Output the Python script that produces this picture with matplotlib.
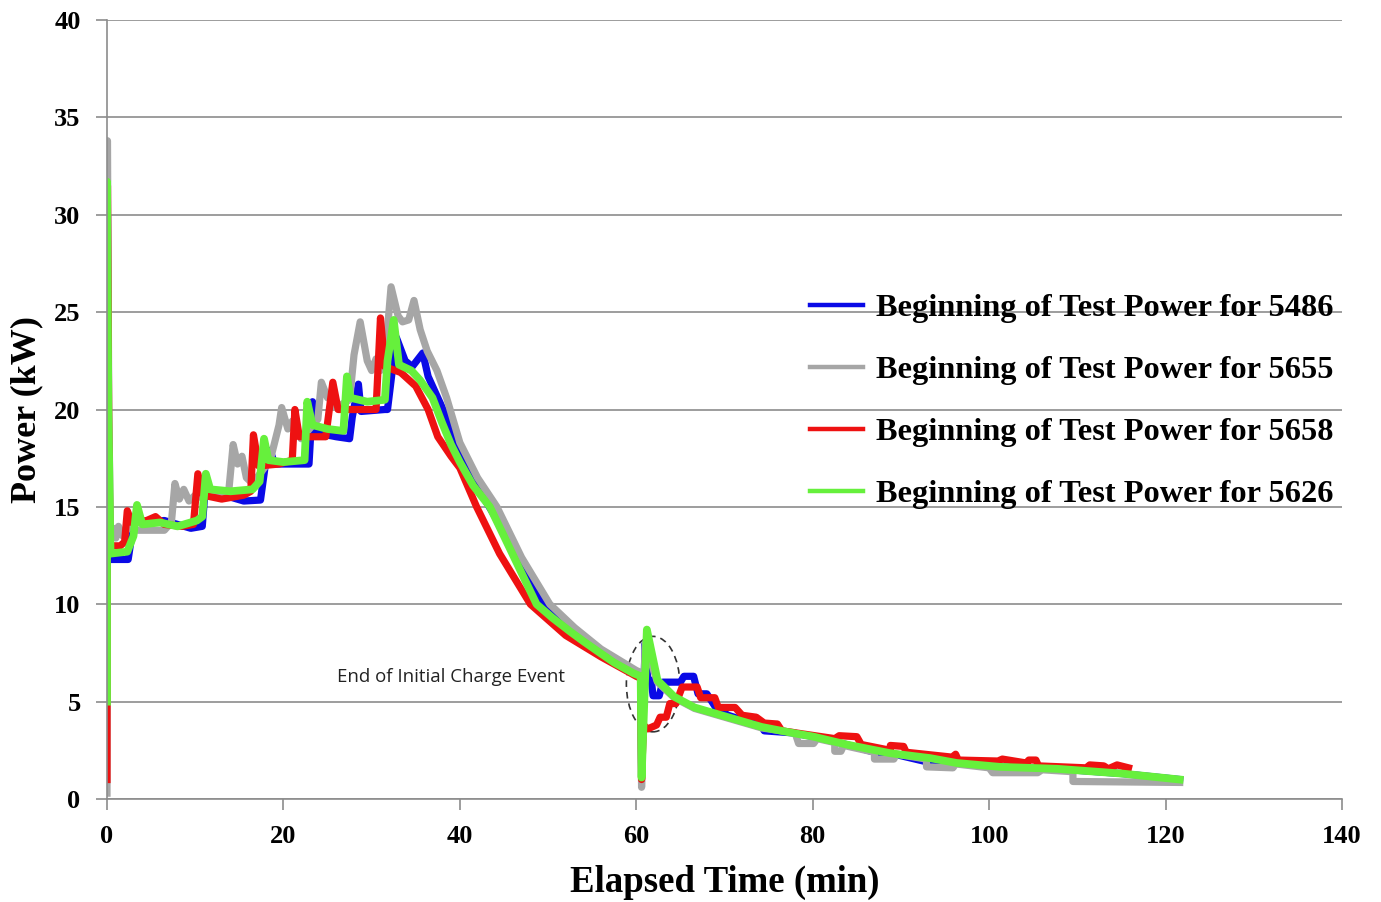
import matplotlib
matplotlib.use("Agg")
import matplotlib.pyplot as plt
from matplotlib.patches import Ellipse

# Beginning of test power traces (elapsed time in min, power in kW)
time_5486 = [0, 0.05, 0.2, 0.4, 2.4, 2.8, 3.4, 4.0, 6.5, 8.0, 9.5, 10.8, 11.2, 11.7, 14.0, 15.5,
             17.4, 17.9, 18.5, 19.0, 22.9, 23.3, 23.7, 26.0, 27.5, 27.8, 28.5, 28.8, 31.5, 31.8,
             32.8, 33.8, 34.6, 35.8, 36.4, 37.5, 39.0, 40.0, 42.0, 44.0, 46.5, 49.5, 53.0, 56.0,
             58.0, 60.0, 60.5, 60.6, 61.0, 61.3, 61.7, 61.9, 62.6, 63.0, 65.0, 65.4, 66.5, 67.0,
             68.0, 69.0, 70.4, 74.2, 74.5, 77.6, 80.1, 83.8, 87.0, 87.4, 88.8, 93.0, 93.3, 96.3,
             101.2, 107.7, 115.2, 121.6]
power_5486 = [10.0, 30.0, 15.0, 12.3, 12.3, 13.5, 14.8, 14.2, 14.3, 14.1, 13.9, 14.0, 16.3, 15.6, 15.5, 15.3,
              15.35, 17.0, 17.9, 17.2, 17.2, 20.4, 18.8, 18.6, 18.5, 19.6, 21.3, 19.9, 20.0, 20.0,
              23.7, 22.5, 22.2, 22.9, 21.7, 20.6, 19.1, 17.9, 16.0, 14.5, 12.2, 10.0, 8.6, 7.5,
              6.9, 6.4, 6.3, 1.2, 8.0, 6.1, 6.1, 5.3, 5.3, 6.0, 6.0, 6.3, 6.3, 5.4,
              5.4, 4.7, 4.3, 3.75, 3.5, 3.4, 3.2, 2.8, 2.4, 2.2, 2.35, 1.9, 2.0, 1.85,
              1.65, 1.55, 1.3, 1.0]

time_5655 = [0, 0.05, 0.2, 0.4, 0.7, 1.0, 1.3, 1.8, 2.5, 3.5, 6.5, 7.3, 7.7, 8.2, 8.7, 9.3, 10.0, 10.5,
             13.8, 14.3, 14.8, 15.3, 15.8, 16.5, 18.5, 19.5, 19.8, 20.5, 21.0, 22.0, 23.9, 24.3,
             25.0, 25.6, 26.0, 27.5, 28.0, 28.7, 29.5, 30.0, 30.5, 31.0, 31.5, 32.2, 33.0, 33.5,
             34.2, 34.8, 35.5, 36.3, 37.4, 38.5, 40.0, 42.0, 44.2, 47.0, 50.2, 53.0, 56.0, 60.0,
             60.5, 60.6, 61.0, 62.4, 64.3, 66.6, 70.4, 74.2, 78.0, 78.4, 80.1, 80.5, 82.5, 82.5,
             83.2, 83.5, 87.0, 87.0, 89.2, 89.5, 92.9, 92.9, 95.9, 96.2, 100.0, 100.4, 105.5, 106.0,
             109.5, 109.5, 121.6]
power_5655 = [0.3, 33.8, 20.0, 13.4, 13.9, 13.4, 14.0, 13.5, 14.0, 13.8, 13.8, 14.2, 16.2, 15.4, 15.9, 15.3, 15.6, 15.5,
              15.8, 18.2, 17.2, 17.6, 16.5, 16.2, 17.4, 19.2, 20.1, 19.0, 19.4, 18.5, 19.5, 21.4,
              20.6, 20.8, 20.1, 20.5, 22.8, 24.5, 22.5, 22.0, 22.6, 22.0, 22.5, 26.3, 24.8, 24.5,
              24.6, 25.6, 24.1, 23.0, 22.0, 20.6, 18.3, 16.5, 15.0, 12.4, 10.0, 8.8, 7.7, 6.6,
              6.5, 0.6, 8.0, 6.0, 5.2, 4.65, 4.15, 3.65, 3.4, 2.85, 2.85, 3.1, 2.9, 2.45,
              2.45, 2.75, 2.4, 2.05, 2.05, 2.3, 2.05, 1.65, 1.6, 1.8, 1.6, 1.35, 1.35, 1.5,
              1.4, 0.9, 0.85]

time_5658 = [0, 0.05, 0.2, 0.35, 1.5, 2.0, 2.3, 2.8, 4.5, 5.5, 6.5, 8.5, 9.8, 10.3, 10.9, 13.0, 15.5,
             16.3, 16.6, 17.2, 19.5, 21.0, 21.3, 21.8, 24.8, 25.6, 26.2, 30.5, 31.0, 31.5, 33.3,
             35.0, 36.4, 37.5, 39.0, 40.0, 41.9, 44.5, 48.0, 50.0, 52.0, 56.0, 60.0, 60.5, 60.6,
             60.8, 61.3, 62.3, 62.7, 63.4, 63.8, 64.5, 65.2, 66.9, 67.3, 68.9, 69.3, 71.2, 72.0,
             73.6, 74.5, 76.0, 76.5, 82.5, 83.0, 85.0, 85.5, 88.8, 88.8, 90.3, 90.6, 95.8, 96.2,
             96.5, 101.0, 101.5, 104.2, 104.5, 105.3, 105.6, 111.0, 111.4, 113.0, 113.5, 114.5, 115.8]
power_5658 = [1.0, 31.5, 18.5, 13.0, 13.0, 13.2, 14.8, 14.2, 14.3, 14.5, 14.1, 14.0, 14.1, 16.7, 15.6, 15.4, 15.6,
              15.8, 18.7, 17.1, 17.2, 17.4, 20.0, 18.6, 18.6, 21.4, 20.0, 20.0, 24.7, 22.2, 21.9,
              21.2, 20.0, 18.6, 17.6, 17.0, 15.0, 12.6, 10.0, 9.2, 8.4, 7.3, 6.3, 6.2, 1.0,
              3.8, 3.6, 3.8, 4.2, 4.2, 4.9, 4.9, 5.75, 5.75, 5.2, 5.2, 4.7, 4.7, 4.3,
              4.2, 3.9, 3.85, 3.5, 3.1, 3.25, 3.2, 2.8, 2.5, 2.75, 2.7, 2.4, 2.15, 2.3,
              2.0, 1.95, 2.05, 1.85, 2.0, 2.0, 1.7, 1.6, 1.75, 1.7, 1.55, 1.75, 1.6]

time_5626 = [0, 0, 0.15, 0.4, 2.3, 3.0, 3.4, 4.0, 6.0, 8.0, 10.2, 10.8, 11.2, 11.7, 14.0, 16.5, 17.3,
             17.8, 18.3, 20.0, 22.4, 22.7, 23.3, 25.0, 26.8, 27.2, 27.6, 29.5, 31.5, 31.8, 32.5,
             33.1, 34.5, 35.5, 36.9, 38.0, 39.0, 40.0, 41.5, 43.4, 45.0, 47.0, 48.7, 50.5, 52.5,
             54.0, 55.9, 57.5, 59.7, 60.5, 60.6, 61.2, 62.4, 64.3, 66.6, 70.4, 74.2, 77.6, 80.1,
             83.8, 88.8, 93.3, 96.3, 101.2, 107.7, 115.2, 121.6]
power_5626 = [5.0, 31.7, 20.0, 12.6, 12.7, 13.5, 15.1, 14.1, 14.2, 14.0, 14.3, 14.5, 16.7, 15.9, 15.8, 15.9, 16.3,
              18.5, 17.4, 17.3, 17.4, 20.4, 19.2, 19.0, 18.9, 21.7, 20.6, 20.4, 20.5, 22.5, 24.6,
              22.3, 22.0, 21.5, 20.6, 19.3, 18.2, 17.3, 16.1, 15.0, 13.5, 11.6, 10.0, 9.3, 8.6,
              8.1, 7.5, 7.0, 6.45, 6.3, 1.1, 8.7, 6.1, 5.25, 4.7, 4.2, 3.7, 3.4, 3.2,
              2.8, 2.35, 2.1, 1.85, 1.65, 1.55, 1.3, 1.0]

series_names = ["Beginning of Test Power for 5486", "Beginning of Test Power for 5655",
                "Beginning of Test Power for 5658", "Beginning of Test Power for 5626"]
series_colors = ["#0a0ae6", "#a6a6a6", "#ee1111", "#66f03c"]
series_widths = [5.2, 5.2, 5.2, 5.6]

serif = "Liberation Serif"

fig = plt.figure(figsize=(13.81, 9.02), dpi=100)
ax = fig.add_axes([107 / 1381, 1 - 799 / 902, (1342 - 107) / 1381, (799 - 20) / 902])

all_times = [time_5486, time_5655, time_5658, time_5626]
all_power = [power_5486, power_5655, power_5658, power_5626]
for t, p, name, col, w in zip(all_times, all_power, series_names, series_colors, series_widths):
    ax.plot(t, p, color=col, lw=w, label=name, solid_joinstyle="round")

ax.set_xlim(0, 140)
ax.set_ylim(0, 40)
ax.set_xticks(range(0, 141, 20))
ax.set_yticks(range(0, 41, 5))
ax.yaxis.grid(True, color="#8c8c8c", lw=1.2)
ax.set_axisbelow(True)
for s in ["top", "right"]:
    ax.spines[s].set_visible(False)
for s in ["left", "bottom"]:
    ax.spines[s].set_color("#8c8c8c")
    ax.spines[s].set_linewidth(1.2)
ax.tick_params(axis="both", direction="out", length=8, width=1.2, color="#8c8c8c", pad=11)
for lab in ax.get_xticklabels() + ax.get_yticklabels():
    lab.set_fontfamily(serif)
    lab.set_fontweight("bold")
    lab.set_fontsize(19)

ax.set_xlabel("Elapsed Time (min)", fontfamily=serif, fontweight="bold", fontsize=26.5, labelpad=12)
ax.set_ylabel("Power (kW)", fontfamily=serif, fontweight="bold", fontsize=26, labelpad=8)

# annotation of the charge event
ax.text(26.1, 6.25, "End of Initial Charge Event", fontfamily="Open Sans", fontsize=13.4,
        va="center", ha="left", color="#222222")
ax.add_patch(Ellipse((61.9, 5.9), 6.05, 4.9, fill=False, ls=(0, (4, 3)), lw=1.2, ec="#333333"))

leg = ax.legend(loc="upper left", bbox_to_anchor=(810 / 1381, 1 - 293.5 / 902), bbox_transform=fig.transFigure,
                frameon=False, borderpad=0, borderaxespad=0, handlelength=1.64, handletextpad=0.4,
                labelspacing=1.0, prop={"family": serif, "weight": "bold", "size": 23.3})
for ln in leg.get_lines():
    ln.set_linewidth(3.2)

fig.savefig("out.png", dpi=100)
